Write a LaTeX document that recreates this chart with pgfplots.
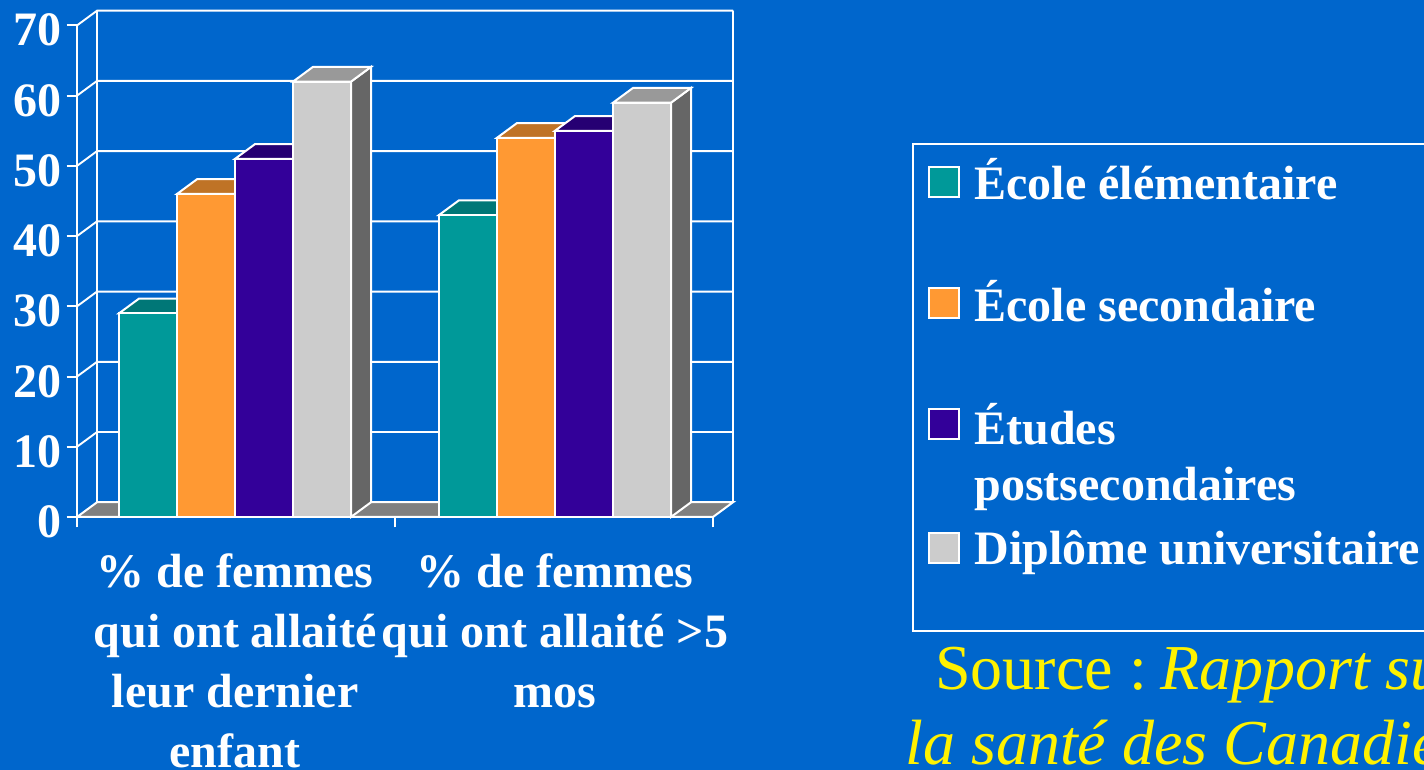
\documentclass[border=0pt]{standalone}
\usepackage{fontspec}
\setmainfont{Liberation Serif}
\usepackage{pgfplots}
\pgfplotsset{compat=1.18}

\definecolor{bg}{HTML}{0066CC}
\definecolor{tealF}{HTML}{009999}
\definecolor{tealT}{HTML}{007777}
\definecolor{orangeF}{HTML}{FF9933}
\definecolor{orangeT}{HTML}{BF7326}
\definecolor{purpleF}{HTML}{330099}
\definecolor{purpleT}{HTML}{260073}
\definecolor{greyF}{HTML}{CCCCCC}
\definecolor{greyT}{HTML}{999999}
\definecolor{greyS}{HTML}{666666}
\definecolor{floorC}{HTML}{808080}

% one filled face of a 3d bar
\newcommand{\face}[2]{\addplot[fill=#1,draw=white,line width=1pt,mark=none] coordinates {#2} --cycle;}

\begin{document}
\begin{tikzpicture}
\useasboundingbox (0,0) rectangle (712pt,385pt);
\clip (0,0) rectangle (712pt,385pt);
\fill[bg] (0,0) rectangle (712pt,385pt);

\begin{axis}[
  at={(38.5pt,126.5pt)},anchor=south west,
  scale only axis,width=328pt,height=253.5pt,
  xmin=0,xmax=656,ymin=0,ymax=72.2,
  axis x line*=bottom,axis y line*=left,
  axis line style={draw=none},
  clip=false,
  xtick={0,318,636},xticklabels={,,},
  ytick={0,10,...,70},
  major tick length=5.2pt,
  tick align=outside,
  tick style={white,line width=0.95pt},
  y tick label style={font=\fontsize{24}{26}\selectfont\bfseries,text=white,inner sep=0pt,xshift=-2.5pt,yshift=-2.4pt,/pgf/number format/assume math mode=true},
  extra x ticks={158,478},
  extra x tick labels={{\% de femmes\\qui ont allaité\\leur dernier\\enfant},{\% de femmes\\qui ont allaité >5\\mos}},
  extra x tick style={major tick length=0pt,
    x tick label style={font=\fontsize{24}{30}\selectfont\bfseries,text=white,align=center,inner sep=0pt,yshift=-18.2pt}},
]
% walls and grid, on the back plane
\addplot[white,line width=0.95pt,mark=none,unbounded coords=jump] coordinates {
  (0,0) (0,70) (nan,nan)
  (20,2.1) (20,72.1) (nan,nan)
  (656,2.1) (656,72.1) (nan,nan)
  (0,10) (20,12.1) (656,12.1) (nan,nan)
  (0,20) (20,22.1) (656,22.1) (nan,nan)
  (0,30) (20,32.1) (656,32.1) (nan,nan)
  (0,40) (20,42.1) (656,42.1) (nan,nan)
  (0,50) (20,52.1) (656,52.1) (nan,nan)
  (0,60) (20,62.1) (656,62.1) (nan,nan)
  (0,70) (20,72.1) (656,72.1)
};
% floor
\face{floorC}{(0,0) (20,2.1) (656,2.1) (636,0)}

% first group: 29, 46, 51, 62
\face{tealT}{(42,29) (62,31.1) (120,31.1) (100,29)}
\face{tealF}{(42,0) (42,29) (100,29) (100,0)}
\face{orangeT}{(100,46) (120,48.1) (178,48.1) (158,46)}
\face{orangeF}{(100,0) (100,46) (158,46) (158,0)}
\face{purpleT}{(158,51) (178,53.1) (236,53.1) (216,51)}
\face{purpleF}{(158,0) (158,51) (216,51) (216,0)}
\face{greyS}{(274,0) (274,62) (294,64.1) (294,2.1)}
\face{greyT}{(216,62) (236,64.1) (294,64.1) (274,62)}
\face{greyF}{(216,0) (216,62) (274,62) (274,0)}

% second group: 43, 54, 55, 59
\face{tealT}{(362,43) (382,45.1) (440,45.1) (420,43)}
\face{tealF}{(362,0) (362,43) (420,43) (420,0)}
\face{orangeT}{(420,54) (440,56.1) (498,56.1) (478,54)}
\face{orangeF}{(420,0) (420,54) (478,54) (478,0)}
\face{purpleT}{(478,55) (498,57.1) (556,57.1) (536,55)}
\face{purpleF}{(478,0) (478,55) (536,55) (536,0)}
\face{greyS}{(594,0) (594,59) (614,61.1) (614,2.1)}
\face{greyT}{(536,59) (556,61.1) (614,61.1) (594,59)}
\face{greyF}{(536,0) (536,59) (594,59) (594,0)}

% front axis line
\addplot[white,line width=1.2pt,mark=none] coordinates {(0,0) (636,0)};
\end{axis}

% legend
\draw[white,line width=0.7pt] (456.5pt,69.5pt) rectangle (730pt,313pt);
\foreach \yy/\cc in {286.5/tealF,226/orangeF,165.5/purpleF,103.5/greyF}
  \fill[\cc,draw=white,line width=1pt] (464.5pt,\yy pt) rectangle (479.5pt,\yy pt+15pt);
\begin{scope}[every node/.style={anchor=base west,inner sep=0pt,text=white,font=\fontsize{24}{26}\selectfont\bfseries}]
\node at (487pt,285.3pt) {École élémentaire};
\node at (487pt,224.3pt) {École secondaire};
\node at (487pt,162.8pt) {Études};
\node at (487pt,134.8pt) {postsecondaires};
\node at (487pt,102.5pt) {Diplôme universitaire};
\end{scope}

% source
\node[anchor=base west,inner sep=0pt,text=yellow,font=\fontsize{32}{34}\selectfont] at (467.5pt,40pt) {Source :\hspace{-4pt} \textit{Rapport su}};
\node[anchor=base west,inner sep=0pt,text=yellow,font=\fontsize{32}{34}\selectfont] at (452.5pt,2.5pt) {\textit{la santé des Canadie}};
\end{tikzpicture}
\end{document}
